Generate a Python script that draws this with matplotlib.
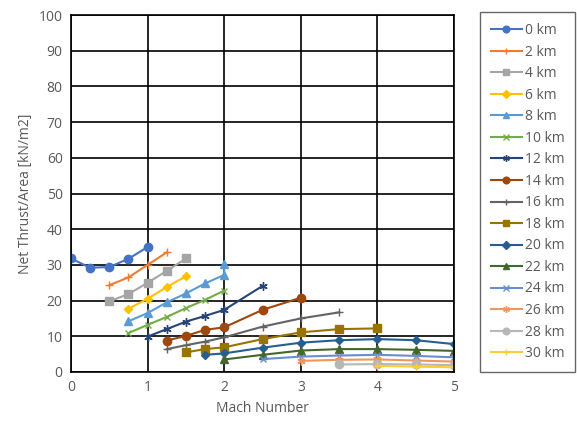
import matplotlib.pyplot as plt

plt.rcParams['font.family'] = ['Open Sans', 'DejaVu Sans']

# Mach number / net thrust per area data per altitude
alt_labels = ['0 km', '2 km', '4 km', '6 km', '8 km', '10 km', '12 km', '14 km',
              '16 km', '18 km', '20 km', '22 km', '24 km', '26 km', '28 km', '30 km']

mach_0 = [0, 0.25, 0.5, 0.75, 1.0]
thrust_0 = [31.8, 29.2, 29.4, 31.7, 35.0]
mach_2 = [0.5, 0.75, 1.0, 1.25]
thrust_2 = [24.3, 26.5, 30.0, 33.5]
mach_4 = [0.5, 0.75, 1.0, 1.25, 1.5]
thrust_4 = [19.8, 21.8, 25.0, 28.3, 31.8]
mach_6 = [0.75, 1.0, 1.25, 1.5]
thrust_6 = [17.7, 20.5, 23.8, 26.8]
mach_8 = [0.75, 1.0, 1.25, 1.5, 1.75, 2.0, 2.0]
thrust_8 = [14.2, 16.5, 19.5, 22.0, 24.8, 27.2, 30.2]
mach_10 = [0.75, 1.0, 1.25, 1.5, 1.75, 2.0]
thrust_10 = [10.9, 13.2, 15.4, 17.9, 20.2, 22.8]
mach_12 = [1.0, 1.25, 1.5, 1.75, 2.0, 2.5]
thrust_12 = [9.9, 12.0, 14.1, 15.7, 17.4, 24.1]
mach_14 = [1.25, 1.5, 1.75, 2.0, 2.5, 3.0]
thrust_14 = [8.8, 10.1, 11.8, 12.5, 17.4, 20.8]
mach_16 = [1.25, 1.5, 1.75, 2.0, 2.5, 3.0, 3.5]
thrust_16 = [6.4, 7.5, 8.5, 9.7, 12.7, 15.0, 16.7]
mach_18 = [1.5, 1.75, 2.0, 2.5, 3.0, 3.5, 4.0]
thrust_18 = [5.5, 6.4, 6.9, 9.2, 11.1, 12.0, 12.2]
mach_20 = [1.75, 2.0, 2.5, 3.0, 3.5, 4.0, 4.5, 5.0]
thrust_20 = [4.8, 5.2, 6.8, 8.2, 8.9, 9.2, 8.9, 7.8]
mach_22 = [2.0, 2.5, 3.0, 3.5, 4.0, 4.5, 5.0]
thrust_22 = [3.5, 4.8, 6.0, 6.4, 6.4, 6.2, 5.9]
mach_24 = [2.5, 3.0, 3.5, 4.0, 4.5, 5.0]
thrust_24 = [3.6, 4.3, 4.6, 4.8, 4.5, 4.1]
mach_26 = [3.0, 3.5, 4.0, 4.5, 5.0]
thrust_26 = [3.1, 3.4, 3.5, 3.2, 2.9]
mach_28 = [3.5, 4.0, 4.5, 5.0]
thrust_28 = [2.1, 2.2, 2.1, 1.9]
mach_30 = [4.0, 4.5, 5.0]
thrust_30 = [1.7, 1.5, 1.3]

machs = [mach_0, mach_2, mach_4, mach_6, mach_8, mach_10, mach_12, mach_14,
         mach_16, mach_18, mach_20, mach_22, mach_24, mach_26, mach_28, mach_30]
thrusts = [thrust_0, thrust_2, thrust_4, thrust_6, thrust_8, thrust_10, thrust_12, thrust_14,
           thrust_16, thrust_18, thrust_20, thrust_22, thrust_24, thrust_26, thrust_28, thrust_30]

colors = ['#4472C4', '#ED7D31', '#A5A5A5', '#FFC000', '#5B9BD5', '#70AD47',
          '#264478', '#9E480E', '#636363', '#997300', '#255E91', '#43682B',
          '#698ED0', '#F1975A', '#B7B7B7', '#FFCD33']
markers = ['o', '+', 's', 'D', '^', 'x', (6, 2, 0), 'o',
           '+', 's', 'D', '^', 'x', (6, 2, 0), 'o', '+']
sizes = [6, 6, 5.5, 4.5, 5.5, 5, 6, 6, 6, 5.5, 4.5, 5.5, 5, 6, 6, 6]

fig = plt.figure(figsize=(5.77, 4.30), dpi=100)
ax = fig.add_axes([0.123, 0.135, 0.664, 0.830])

for m, t, c, mk, s, lab in zip(machs, thrusts, colors, markers, sizes, alt_labels):
    ax.plot(m, t, color=c, marker=mk, markersize=s, linewidth=1.5,
            markeredgewidth=1.0, label=lab)

ax.set_xlim(0, 5)
ax.set_ylim(0, 100)
ax.set_xticks(range(0, 6))
ax.set_yticks(range(0, 101, 10))
ax.grid(True, color='black', linewidth=1.2)
ax.set_axisbelow(True)
for sp in ax.spines.values():
    sp.set_color('black')
    sp.set_linewidth(1.2)
ax.tick_params(length=0, labelsize=10, colors='#595959', pad=6)
ax.set_xlabel('Mach Number', color='#595959', fontsize=10)
ax.set_ylabel('Net Thrust/Area [kN/m2]', color='#595959', fontsize=10)

leg = fig.legend(loc='upper left', bbox_to_anchor=(0.832, 0.972), frameon=True,
                 fontsize=10, labelcolor='#595959', handlelength=2.2,
                 handletextpad=0.2, borderpad=0.8, labelspacing=0.47,
                 fancybox=False, borderaxespad=0, markerscale=0.8)
leg.get_frame().set_edgecolor('#404040')
leg.get_frame().set_linewidth(1.0)

fig.savefig('out.png', dpi=100)
